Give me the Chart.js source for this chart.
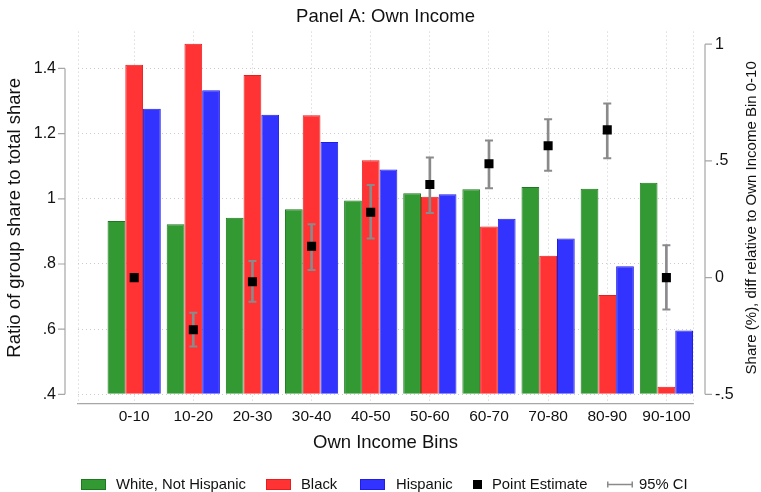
<!DOCTYPE html>
<html>
<head>
<meta charset="utf-8">
<title>Panel A: Own Income</title>
<script src="https://cdn.jsdelivr.net/npm/chart.js@4/dist/chart.umd.min.js"></script>
<style>
  html, body { margin: 0; padding: 0; background: #fff; }
</style>
</head>
<body>
<canvas id="incomeChart" width="761" height="492"></canvas>
<script>
// values
var bins = ['0-10', '10-20', '20-30', '30-40', '40-50', '50-60', '60-70', '70-80', '80-90', '90-100'];
var binPos = [1, 2, 3, 4, 5, 6, 7, 8, 9, 10];

var white    = [0.932, 0.922, 0.942, 0.968, 0.995, 1.017, 1.029, 1.036, 1.031, 1.049];
var black    = [1.411, 1.476, 1.380, 1.256, 1.118, 1.006, 0.915, 0.825, 0.705, 0.423];
var hispanic = [1.276, 1.333, 1.258, 1.174, 1.090, 1.014, 0.939, 0.878, 0.793, 0.596];

// right axis: share diff relative to bin 0-10
var pointEst = [0, -0.223, -0.018, 0.134, 0.280, 0.399, 0.488, 0.565, 0.633, 0];
var ciLow    = [null, -0.295, -0.103, 0.033, 0.168, 0.277, 0.383, 0.458, 0.511, -0.137];
var ciHigh   = [null, -0.150, 0.071, 0.229, 0.397, 0.515, 0.587, 0.678, 0.746, 0.139];

var leftTicks = [0.4, 0.6, 0.8, 1, 1.2, 1.4];
var leftLabels = ['.4', '.6', '.8', '1', '1.2', '1.4'];
var rightTicks = [-0.5, 0, 0.5, 1];
var rightLabels = ['-.5', '0', '.5', '1'];

var seriesNames = ['White, Not Hispanic', 'Black', 'Hispanic', 'Point Estimate', '95% CI'];

var gridColor = '#cccccc';
var axisColor = '#a6a6a6';
var ciColor = '#8a8a8a';
var txtColor = '#111111';

Chart.defaults.font.family = "'Liberation Sans', Arial, Helvetica, sans-serif";
Chart.defaults.color = txtColor;

function pts(vals) {
  return binPos.map(function (x, i) { return { x: x, y: vals[i] }; });
}

// Stata-like extras: offset axis lines, edge grid lines, right title, legend
var stataBits = {
  id: 'stataBits',
  beforeDatasetsDraw: function (chart) {
    var ctx = chart.ctx, a = chart.chartArea;
    ctx.save();
    ctx.strokeStyle = gridColor;
    ctx.lineWidth = 1;
    ctx.setLineDash([1, 3]);
    [a.left, a.right].forEach(function (x) {
      ctx.beginPath();
      ctx.moveTo(Math.round(x) + 0.5, a.top);
      ctx.lineTo(Math.round(x) + 0.5, a.bottom);
      ctx.stroke();
    });
    ctx.restore();
  },
  afterDraw: function (chart) {
    var ctx = chart.ctx, a = chart.chartArea;
    var yl = chart.scales.y, yr = chart.scales.y1;
    ctx.save();
    ctx.strokeStyle = axisColor;
    ctx.lineWidth = 1.2;

    // left axis
    var lx = a.left - 13;
    ctx.beginPath();
    ctx.moveTo(lx, yl.getPixelForValue(leftTicks[0]));
    ctx.lineTo(lx, yl.getPixelForValue(leftTicks[leftTicks.length - 1]));
    leftTicks.forEach(function (v) {
      var y = yl.getPixelForValue(v);
      ctx.moveTo(lx - 7, y);
      ctx.lineTo(lx, y);
    });
    ctx.stroke();

    // right axis
    var rx = a.right + 12;
    ctx.beginPath();
    ctx.moveTo(rx, yr.getPixelForValue(rightTicks[0]));
    ctx.lineTo(rx, yr.getPixelForValue(rightTicks[rightTicks.length - 1]));
    rightTicks.forEach(function (v) {
      var y = yr.getPixelForValue(v);
      ctx.moveTo(rx, y);
      ctx.lineTo(rx + 7, y);
    });
    ctx.stroke();

    // right axis title, reads bottom to top
    ctx.save();
    ctx.translate(752, (a.top + a.bottom) / 2);
    ctx.rotate(-Math.PI / 2);
    ctx.fillStyle = txtColor;
    ctx.font = "15px 'Liberation Sans', Arial, sans-serif";
    ctx.textAlign = 'center';
    ctx.textBaseline = 'middle';
    ctx.fillText('Share (%), diff relative to Own Income Bin 0-10', 0, 0);
    ctx.restore();

    // legend
    var ly = 484.5;
    ctx.font = "14.8px 'Liberation Sans', Arial, sans-serif";
    ctx.textBaseline = 'middle';
    ctx.textAlign = 'left';
    var keys = [
      { kind: 'box', x: 81, tx: 116, fill: '#339933', stroke: '#1e781e' },
      { kind: 'box', x: 266, tx: 301, fill: '#ff3333', stroke: '#e61e1e' },
      { kind: 'box', x: 360, tx: 396, fill: '#3333ff', stroke: '#1e1ee6' },
      { kind: 'sq', x: 473, tx: 492 },
      { kind: 'ci', x: 607, tx: 639 }
    ];
    keys.forEach(function (k, i) {
      if (k.kind === 'box') {
        ctx.fillStyle = k.fill;
        ctx.fillRect(k.x, ly - 5.5, 25, 11);
        ctx.strokeStyle = k.stroke;
        ctx.lineWidth = 1;
        ctx.strokeRect(k.x + 0.5, ly - 5, 24, 10);
      } else if (k.kind === 'sq') {
        ctx.fillStyle = '#000';
        ctx.fillRect(k.x, ly - 4.5, 9, 9);
      } else {
        ctx.strokeStyle = ciColor;
        ctx.lineWidth = 1.5;
        ctx.beginPath();
        ctx.moveTo(k.x, ly); ctx.lineTo(k.x + 26, ly);
        ctx.moveTo(k.x + 0.75, ly - 3); ctx.lineTo(k.x + 0.75, ly + 3);
        ctx.moveTo(k.x + 25.25, ly - 3); ctx.lineTo(k.x + 25.25, ly + 3);
        ctx.stroke();
      }
      ctx.fillStyle = txtColor;
      ctx.fillText(seriesNames[i], k.tx, ly);
    });
    ctx.restore();
  }
};

var ctx = document.getElementById('incomeChart').getContext('2d');

var chart = new Chart(ctx, {
  type: 'bar',
  data: {
    datasets: [
      {
        type: 'line', label: seriesNames[3], data: pts(pointEst), yAxisID: 'y1',
        showLine: false, pointStyle: 'rect', pointRadius: 6.4,
        pointBackgroundColor: '#000', pointBorderWidth: 0, order: 0
      },
      {
        type: 'line', label: 'CI upper', data: pts(ciHigh), yAxisID: 'y1',
        showLine: false, pointStyle: 'line', pointRadius: 4,
        pointBorderColor: ciColor, pointBorderWidth: 2, order: 1
      },
      {
        type: 'line', label: 'CI lower', data: pts(ciLow), yAxisID: 'y1',
        showLine: false, pointStyle: 'line', pointRadius: 4,
        pointBorderColor: ciColor, pointBorderWidth: 2, order: 1
      },
      {
        type: 'bar', label: seriesNames[4], yAxisID: 'y1',
        data: binPos.map(function (x, i) {
          return { x: x, y: ciLow[i] === null ? null : [ciLow[i], ciHigh[i]] };
        }),
        grouped: false, barThickness: 2, backgroundColor: ciColor, borderWidth: 0, order: 2
      },
      {
        label: seriesNames[0], data: pts(white), yAxisID: 'y', base: 0.4,
        backgroundColor: '#339933', borderColor: '#1e781e', borderWidth: 1, order: 3
      },
      {
        label: seriesNames[1], data: pts(black), yAxisID: 'y', base: 0.4,
        backgroundColor: '#ff3333', borderColor: '#e61e1e', borderWidth: 1, order: 3
      },
      {
        label: seriesNames[2], data: pts(hispanic), yAxisID: 'y', base: 0.4,
        backgroundColor: '#3333ff', borderColor: '#1e1ee6', borderWidth: 1, order: 3
      }
    ]
  },
  options: {
    responsive: false,
    animation: false,
    events: [],
    categoryPercentage: 0.9,
    barPercentage: 1.0,
    layout: { padding: { top: 0, left: 0, right: 0, bottom: 38.3 } },
    plugins: {
      legend: { display: false },
      tooltip: { enabled: false },
      title: {
        display: true, text: 'Panel A: Own Income', fullSize: false,
        font: { size: 18.5, weight: 'normal' }, color: txtColor,
        padding: { top: 4.5, bottom: 3.3 }
      }
    },
    scales: {
      x: {
        type: 'linear', position: 'bottom', min: 0.05, max: 10.45, offset: false,
        afterBuildTicks: function (s) { s.ticks = binPos.map(function (v) { return { value: v }; }); },
        ticks: {
          autoSkip: false, maxRotation: 0, padding: 3, font: { size: 15.5 }, color: txtColor,
          callback: function (v) { return bins[binPos.indexOf(v)]; }
        },
        grid: { color: gridColor, lineWidth: 1, drawTicks: false, offset: false },
        border: { display: true, color: axisColor, width: 1.2, dash: [1, 3] },
        title: {
          display: true, text: 'Own Income Bins', font: { size: 18.5 }, color: txtColor,
          padding: { top: 0, bottom: 0 }
        },
        afterFit: function (s) { s.height = 49.7; }
      },
      y: {
        type: 'linear', position: 'left', min: 0.3704, max: 1.513,
        afterBuildTicks: function (s) { s.ticks = leftTicks.map(function (v) { return { value: v }; }); },
        ticks: {
          padding: 22, font: { size: 16 }, color: txtColor,
          callback: function (v) { return leftLabels[leftTicks.indexOf(v)]; }
        },
        grid: { color: gridColor, lineWidth: 1, drawTicks: false },
        border: { display: false, dash: [1, 3] },
        title: {
          display: true, text: 'Ratio of group share to total share', font: { size: 18.5 }, color: txtColor,
          padding: { top: 4, bottom: 0 }
        },
        afterFit: function (s) { s.width = 78; }
      },
      y1: {
        type: 'linear', position: 'right', min: -0.5414, max: 1.054,
        afterBuildTicks: function (s) { s.ticks = rightTicks.map(function (v) { return { value: v }; }); },
        ticks: {
          padding: 22, font: { size: 16 }, color: txtColor,
          callback: function (v) { return rightLabels[rightTicks.indexOf(v)]; }
        },
        grid: { display: false, drawTicks: false },
        border: { display: false },
        afterFit: function (s) { s.width = 68; }
      }
    }
  },
  plugins: [stataBits]
});
</script>
</body>
</html>
